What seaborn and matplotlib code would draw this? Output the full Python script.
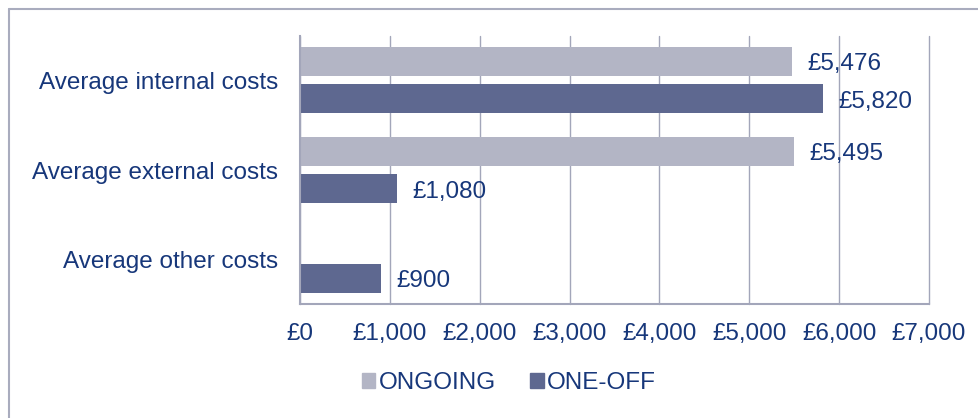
import pandas as pd
import matplotlib.pyplot as plt
import seaborn as sns
from matplotlib.lines import Line2D

# data
categories = ['Average internal costs', 'Average external costs', 'Average other costs']
ongoing = [5476, 5495, 0]
one_off = [5820, 1080, 900]
series = ['ONGOING', 'ONE-OFF']
ticks = [0, 1000, 2000, 3000, 4000, 5000, 6000, 7000]

text_col = '#17377A'
grid_col = '#A3A6BA'
colors = {'ONGOING': '#B3B5C5', 'ONE-OFF': '#5E6890'}

df = pd.DataFrame({
    'category': categories * 2,
    'series': ['ONGOING'] * 3 + ['ONE-OFF'] * 3,
    'value': ongoing + one_off,
})

sns.set_style('white')
plt.rcParams['font.family'] = ['Liberation Sans', 'DejaVu Sans']

fig = plt.figure(figsize=(9.79, 4.18), dpi=100)
ax = fig.add_axes([300 / 979, 1 - 304 / 418, 629 / 979, 268 / 418])

sns.barplot(data=df, y='category', x='value', hue='series', orient='h',
            palette=colors, saturation=1, width=0.833, gap=0.227, linewidth=0,
            ax=ax, legend=False)

ax.set_xlim(0, 7000)
ax.set_ylim(2.49, -0.49)
ax.set_xticks(ticks)
ax.set_xticklabels([f'£{t:,}' for t in ticks])
ax.set_xlabel('')
ax.set_ylabel('')
ax.tick_params(axis='x', length=0, pad=14, labelsize=17.5, labelcolor=text_col)
ax.tick_params(axis='y', length=0, pad=16, labelsize=17.5, labelcolor=text_col)

ax.grid(axis='x', color=grid_col, linewidth=1)
ax.set_axisbelow(True)
for gl in ax.get_xgridlines():
    gl.set_clip_on(False)
for side in ['top', 'right']:
    ax.spines[side].set_visible(False)
for side in ['left', 'bottom']:
    ax.spines[side].set_color(grid_col)
    ax.spines[side].set_linewidth(1.5)

# value labels
for cont in ax.containers:
    for bar in cont:
        w = bar.get_width()
        if w > 0:
            ax.annotate(f'£{w:,.0f}', (w, bar.get_y() + bar.get_height() / 2),
                        xytext=(11, -2), textcoords='offset points',
                        ha='left', va='center', fontsize=17.5, color=text_col)

handles = [plt.Rectangle((0, 0), 1, 1, color=colors[s]) for s in series]
fig.legend(handles, series, loc='center', bbox_to_anchor=(0.52, 0.083), ncol=2,
           frameon=False, fontsize=17.5, labelcolor=text_col,
           handlelength=0.55, handleheight=0.55, handletextpad=0.15,
           columnspacing=1.4)

# chart frame
fig.add_artist(Line2D([9 / 979, 1], [1 - 9 / 418, 1 - 9 / 418], color='#A9ACBE', lw=1.5))
fig.add_artist(Line2D([9 / 979, 9 / 979], [0, 1 - 9 / 418], color='#A9ACBE', lw=1.5))

plt.savefig('out.png', dpi=100)
